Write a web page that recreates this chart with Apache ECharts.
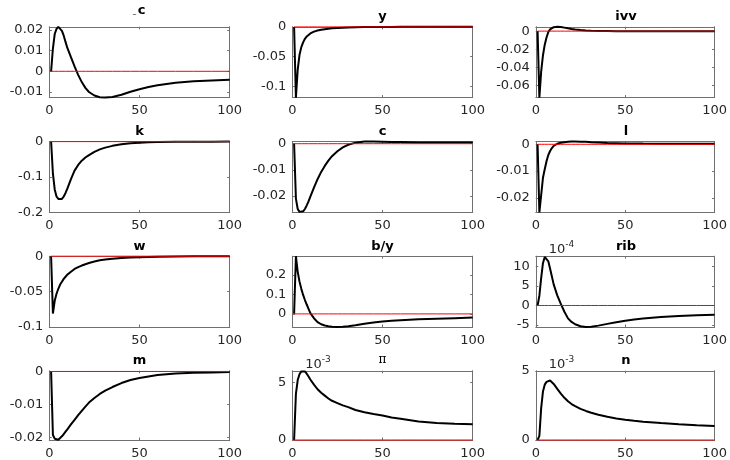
<!DOCTYPE html>
<html><head><meta charset="utf-8">
<script src="https://cdn.jsdelivr.net/npm/echarts@6/dist/echarts.min.js"></script>
<style>html,body{margin:0;padding:0;background:#fff}#c{width:730px;height:460px}</style>
</head><body><div id="c"></div>
<script>
// Periods (x values)
const periods = [1,2,3,4,5,6,7,8,9,10,12,14,16,18,20,22,25,28,31,35,40,45,50,55,60,70,80,90,100];
// Impulse responses
const cbarIRF = [0,0.011,0.018,0.0205,0.0215,0.021,0.0195,0.0172,0.0142,0.0113,0.0068,0.0024,-0.0017,-0.0052,-0.0080,-0.0100,-0.0117,-0.0125,-0.0127,-0.0124,-0.0113,-0.0099,-0.0087,-0.0076,-0.0067,-0.0055,-0.0048,-0.0044,-0.0041];
const yIRF = [0,-0.119,-0.072,-0.047,-0.034,-0.026,-0.020,-0.016,-0.013,-0.011,-0.008,-0.006,-0.0048,-0.0038,-0.003,-0.0024,-0.0017,-0.0012,-0.0008,-0.0004,-0.0002,-0.0001,0,0,0.0001,0.0001,0.0001,0.0001,0.0001];
const ivvIRF = [0,-0.0737,-0.045,-0.027,-0.015,-0.007,-0.001,0.002,0.0036,0.0044,0.0048,0.0046,0.0039,0.0031,0.0024,0.0018,0.0012,0.0007,0.0004,0.0002,0.0001,0,0,0,0,0,0,0,0];
const kIRF = [0,-0.09,-0.135,-0.155,-0.162,-0.164,-0.162,-0.155,-0.145,-0.133,-0.106,-0.082,-0.066,-0.054,-0.045,-0.038,-0.029,-0.022,-0.017,-0.012,-0.0075,-0.0048,-0.003,-0.002,-0.0012,-0.0005,-0.0002,-0.0001,0];
const cIRF = [0,-0.021,-0.0250,-0.0261,-0.0263,-0.0259,-0.0250,-0.0236,-0.0221,-0.0203,-0.0168,-0.0136,-0.0108,-0.0085,-0.0065,-0.0048,-0.0029,-0.0014,-0.0004,0.0004,0.0008,0.0008,0.0007,0.0006,0.0006,0.0005,0.0005,0.0005,0.0005];
const lIRF = [0,-0.0254,-0.019,-0.0125,-0.0093,-0.0063,-0.004,-0.0025,-0.0014,-0.0006,0.0002,0.0006,0.0008,0.0009,0.001,0.001,0.00097,0.0009,0.0008,0.0007,0.0005,0.0004,0.0003,0.0003,0.00025,0.0002,0.0002,0.0002,0.0002];
const wIRF = [0,-0.081,-0.063,-0.053,-0.046,-0.040,-0.036,-0.032,-0.029,-0.026,-0.022,-0.018,-0.0155,-0.0132,-0.0113,-0.0097,-0.0076,-0.0058,-0.0047,-0.0036,-0.0026,-0.0019,-0.0014,-0.001,-0.0007,-0.0004,-0.0002,-0.0001,0];
const byIRF = [0,0.295,0.215,0.165,0.128,0.097,0.071,0.048,0.026,0.004,-0.022,-0.042,-0.053,-0.059,-0.063,-0.066,-0.067,-0.066,-0.063,-0.058,-0.050,-0.044,-0.039,-0.035,-0.032,-0.028,-0.025,-0.022,-0.019];
const ribIRF = [0,2.5,7.0,10.8,12.4,12.5,11.3,9.4,7.4,5.4,2.6,0.4,-1.6,-3.3,-4.2,-4.8,-5.3,-5.5,-5.45,-5.15,-4.7,-4.3,-3.9,-3.6,-3.35,-2.95,-2.7,-2.5,-2.35]; // x 1e-4
const mIRF = [0,-0.0192,-0.0203,-0.0207,-0.0206,-0.0202,-0.0196,-0.0189,-0.0182,-0.0175,-0.0160,-0.0146,-0.0132,-0.0119,-0.0106,-0.0094,-0.0080,-0.0068,-0.0058,-0.0047,-0.0035,-0.0026,-0.0020,-0.0015,-0.0011,-0.0006,-0.0004,-0.0003,-0.0002];
const piIRF = [0,4.0,5.2,5.7,5.95,6.0,5.95,5.75,5.5,5.25,4.8,4.4,4.1,3.85,3.6,3.4,3.2,3.0,2.85,2.6,2.4,2.25,2.12,1.95,1.85,1.6,1.48,1.41,1.36]; // x 1e-3
const nIRF = [0,0.3,2.3,3.5,4.0,4.2,4.3,4.3,4.2,4.05,3.7,3.35,3.05,2.8,2.6,2.45,2.25,2.1,1.97,1.83,1.68,1.56,1.47,1.39,1.32,1.22,1.13,1.06,1.01]; // x 1e-3

const titles = ['c','y','ivv','k','c','l','w','b/y','rib','m','\u03c0','n'];
const series = [cbarIRF,yIRF,ivvIRF,kIRF,cIRF,lIRF,wIRF,byIRF,ribIRF,mIRF,piIRF,nIRF];
const yMins = [-0.0127,-0.119,-0.0737,-0.2,-0.0263,-0.0254,-0.1,-0.067,-5.5,-0.0207,0,0];
const yMaxs = [0.0215,0.0002,0.0048,0,0.0008,0.001,0,0.295,12.6,0.0002,6.0,5];
const yTicks = [[-0.01,0,0.01,0.02],[-0.1,-0.05,0],[-0.06,-0.04,-0.02,0],[-0.2,-0.1,0],[-0.02,-0.01,0],[-0.02,-0.01,0],[-0.1,-0.05,0],[0,0.1,0.2],[-5,0,5,10],[-0.02,-0.01,0],[0,5],[0,5]];
const multipliers = [null,null,null,null,null,null,null,null,'-4',null,'-3','-3'];
const xTicks = [0,50,100];

const colLeft = [49.3,292.3,535.8];
const rowTop = [26.8,141.6,256.2,370.8];
const W = 180.4, H = 70.8;
const FONT = 'DejaVu Sans';
const AX = '#262626';
const BOX = '#707070';

const grid=[], xAxis=[], yAxis=[], ser=[], graphic=[];
for (let i=0;i<12;i++){
  const col=i%3, row=Math.floor(i/3);
  const L=colLeft[col], T=rowTop[row];
  grid.push({left:L, top:T, width:W, height:H, containLabel:false});
  const mk = (pos, showLabel) => ({type:'value', gridIndex:i, min:0, max:100, position:pos,
    axisLine:{show:true,onZero:false,lineStyle:{color:BOX,width:1}},
    axisTick:{show:true,inside:true,length:2.5,customValues:xTicks,lineStyle:{color:BOX,width:1}},
    axisLabel:{show:showLabel,customValues:xTicks,fontFamily:FONT,fontSize:13,color:AX,margin:7},
    splitLine:{show:false}});
  xAxis.push(mk('bottom', true));
  xAxis.push(mk('top', false));
  const mky = (pos, showLabel) => ({type:'value', gridIndex:i, min:yMins[i], max:yMaxs[i], position:pos,
    axisLine:{show:true,onZero:false,lineStyle:{color:BOX,width:1}},
    axisTick:{show:true,inside:true,length:2.5,customValues:yTicks[i],lineStyle:{color:BOX,width:1}},
    axisLabel:{show:showLabel,customValues:yTicks[i],fontFamily:FONT,fontSize:13,color:AX,margin:6,
      formatter:v=>String(Math.round(v*1e6)/1e6)},
    splitLine:{show:false}});
  yAxis.push(mky('left', true));
  yAxis.push(mky('right', false));
  const d = periods.map((p,j)=>[p, series[i][j]]);
  ser.push({type:'line', xAxisIndex:2*i, yAxisIndex:2*i, data:d, showSymbol:false, symbol:'none',
    clip:false, lineStyle:{color:'#000000',width:2}, itemStyle:{color:'#000000'}, z:4});
  ser.push({type:'line', xAxisIndex:2*i, yAxisIndex:2*i, data:periods.map(p=>[p,0]), showSymbol:false, symbol:'none',
    clip:false, lineStyle:{color:'#ff0000',width:1}, itemStyle:{color:'#ff0000'}, z:6});
  const cx = L+W/2;
  if (i===0){
    graphic.push({type:'text', x:cx-5, y:T-8, style:{text:'\u00af', fill:'#555', fontFamily:FONT, fontSize:11, align:'center', verticalAlign:'middle'}});
    graphic.push({type:'text', x:cx+2, y:T-16, style:{text:'c', fill:'#000', fontFamily:FONT, fontWeight:'bold', fontSize:13, align:'center', verticalAlign:'middle'}});
  } else if (titles[i]==='\u03c0'){
    graphic.push({type:'text', x:cx, y:T-11, style:{text:titles[i], fill:'#000', fontFamily:'DejaVu Serif', fontSize:12, align:'center', verticalAlign:'middle'}});
  } else {
    graphic.push({type:'text', x:cx, y:T-10, style:{text:titles[i], fill:'#000', fontFamily:FONT, fontWeight:'bold', fontSize:13, align:'center', verticalAlign:'middle'}});
  }
  if (multipliers[i]){
    graphic.push({type:'text', x:L+13, y:T-8, style:{text:'{b|10}{s|'+multipliers[i]+'}', fill:AX, align:'left', verticalAlign:'middle',
      rich:{b:{fontFamily:FONT,fontSize:13,fill:AX,lineHeight:16,verticalAlign:'bottom'}, s:{fontFamily:FONT,fontSize:9,fill:AX,lineHeight:8,verticalAlign:'top'}}}});
  }
}
const chart = echarts.init(document.getElementById('c'), null, {renderer:'canvas'});
chart.setOption({animation:false, backgroundColor:'#fff', grid, xAxis, yAxis, series:ser, graphic});
</script></body></html>
